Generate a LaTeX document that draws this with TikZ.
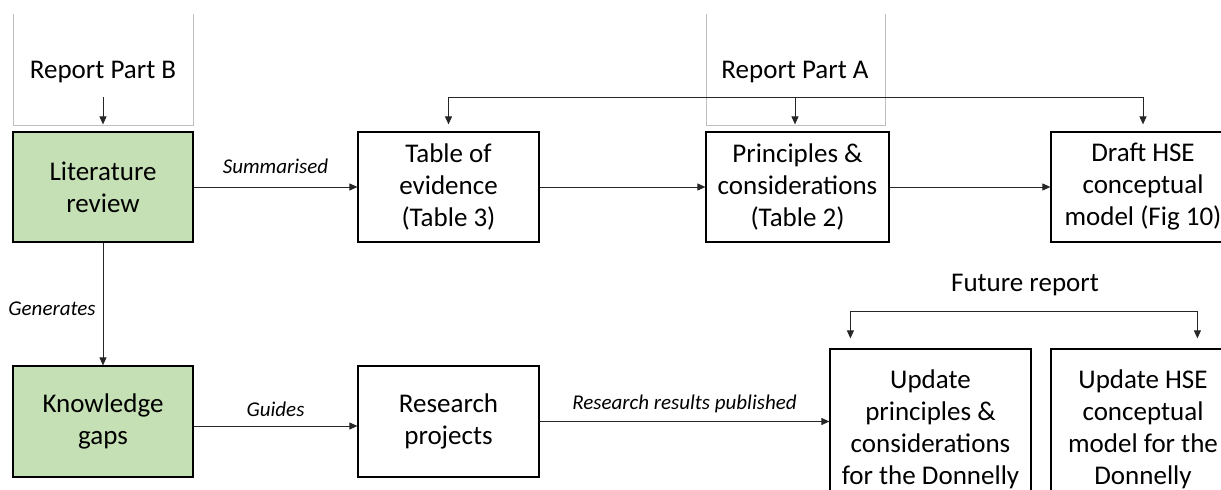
\documentclass[tikz,border=0pt]{standalone}
\usepackage{fontspec}
\setmainfont{Carlito}
\usetikzlibrary{arrows.meta,calc}
\definecolor{boxgreen}{HTML}{C5E0B4}
\definecolor{framegray}{HTML}{BFBFBF}
\tikzset{
  box/.style={draw=black, line width=1.2pt, align=center, inner sep=2pt,
    font=\fontsize{27}{32}\selectfont, minimum height=110pt},
  greenbox/.style={box, fill=boxgreen},
  arr/.style={draw=black!85, line width=0.9pt, -{Triangle[length=8pt,width=7pt]}},
  lbl/.style={font=\fontsize{21}{24}\selectfont\itshape, inner sep=0pt},
  head/.style={font=\fontsize{27}{32}\selectfont, inner sep=0pt},
  frame/.style={draw=framegray, line width=0.8pt}
}
\begin{document}
\begin{tikzpicture}[x=1pt,y=-1pt]
\useasboundingbox (0,0) rectangle (1221,490);
\clip (0,0) rectangle (1221,490);
% frames
\draw[frame] (13,14) -- (13,125) -- (193,125) -- (193,14);
\draw[frame] (706,14) -- (706,125) -- (885,125) -- (885,14);
\node[head] (partB) at (103,72) {Report Part B};
\node[head] (partA) at (795,72) {Report Part A};
\node[head] (future) at (1025,285) {Future report};
% boxes
\node[greenbox, minimum width=180pt] (litrev) at (103,187) {Literature\\review};
\node[box, minimum width=181pt] (tableev) at (448.5,187) {Table of\\evidence\\(Table 3)};
\node[box, minimum width=183pt] (princ) at (797.5,187) {Principles \&\\considerations\\(Table 2)};
\node[box, minimum width=184pt] (draft) at (1143,187) {Draft HSE\\conceptual\\model (Fig 10)};
\node[greenbox, minimum width=180pt, minimum height=111pt] (kgaps) at (103,421.5) {Knowledge\\gaps};
\node[box, minimum width=181pt, minimum height=111pt] (resproj) at (448.5,421.5) {Research\\projects};
\node[box, minimum width=201pt, minimum height=160pt] (updprinc) at (930.5,429) {Update\\principles \&\\considerations\\for the Donnelly};
\node[box, minimum width=184pt, minimum height=160pt] (updhse) at (1143,429) {Update HSE\\conceptual\\model for the\\Donnelly};
% coordinates
\coordinate (srcB) at (103,97);
\coordinate (srcA) at (795,97);
\coordinate (srcF) at (1025,311);
% connectors
\draw[arr, shorten >=7pt] (srcB) -- (litrev.north);
\draw[arr, shorten >=7pt] (srcA) -| (tableev.north);
\draw[arr, shorten >=7pt] (srcA) -- (srcA |- princ.north);
\draw[arr, shorten >=7pt] (srcA) -| (draft.north);
\draw[arr] (litrev.east) -- node[lbl, above=13pt, pos=0.5] (lsum) {Summarised} (tableev.west);
\draw[arr] (tableev.east) -- (princ.west);
\draw[arr] (princ.east) -- (draft.west);
\draw[arr] (litrev.south) -- node[lbl, left=7pt, pos=0.54] (lgen) {Generates} (kgaps.north);
\draw[arr] ($(kgaps.east)+(0,4.5)$) -- node[lbl, above=9pt] (lgui) {Guides} ($(resproj.west)+(0,4.5)$);
\draw[arr] (resproj.east) -- node[lbl, above=8pt, pos=0.5] (lres) {Research results published} (resproj.east -| updprinc.west);
\draw[arr, shorten >=10pt] (srcF) -| ($(updprinc.north west)+(21,0)$);
\draw[arr, shorten >=10pt] (srcF) -| ($(updhse.north west)+(147,0)$);
\end{tikzpicture}
\end{document}
